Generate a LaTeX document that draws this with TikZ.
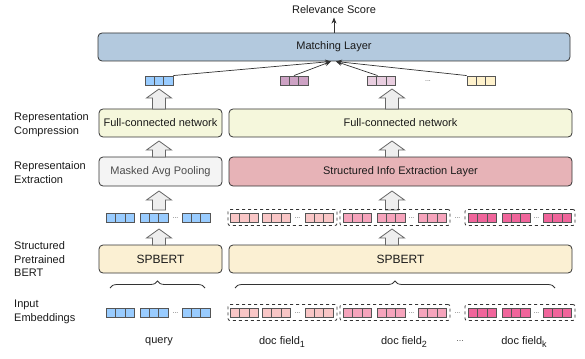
\documentclass[tikz,border=0pt]{standalone}
\usepackage{fontspec}
\setmainfont{Liberation Sans}
\usetikzlibrary{calc,arrows.meta,decorations.pathreplacing}
\definecolor{linec}{HTML}{333333}
\definecolor{cellc}{HTML}{555555}
\definecolor{matchc}{HTML}{B3C9DE}
\definecolor{fcc}{HTML}{F5F7DC}
\definecolor{maskc}{HTML}{F4F4F4}
\definecolor{siec}{HTML}{E7B3B7}
\definecolor{bertc}{HTML}{FBF0D3}
\definecolor{bluec}{HTML}{99CCFF}
\definecolor{pinka}{HTML}{F9C6C6}
\definecolor{pinkb}{HTML}{F6A4BC}
\definecolor{pinkc}{HTML}{F0659B}
\definecolor{purpc}{HTML}{CDA2C4}
\definecolor{mauvc}{HTML}{E9CEE0}
\definecolor{yellc}{HTML}{FFF2CC}
\definecolor{arrc}{HTML}{EEEEEE}
\definecolor{arrd}{HTML}{666666}
\definecolor{txtc}{HTML}{1A1A1A}
\newcommand\subsc[1]{\raisebox{-2.5pt}{\fontsize{9}{9}\selectfont #1}}
\begin{document}
\begin{tikzpicture}[x=1pt,y=1pt,
  every node/.style={font=\fontsize{11}{14}\selectfont, text=txtc},
  layer/.style={draw=linec, line width=0.8pt, rounded corners=4pt, minimum height=28pt, inner sep=0pt},
  vecnode/.style={draw=cellc, line width=0.9pt, minimum width=28pt, minimum height=9pt, inner sep=0pt, fill=#1,
    path picture={
      \draw[cellc,line width=0.9pt]
        ($(path picture bounding box.south west)!1/3!(path picture bounding box.south east)$) --
        ($(path picture bounding box.north west)!1/3!(path picture bounding box.north east)$)
        ($(path picture bounding box.south west)!2/3!(path picture bounding box.south east)$) --
        ($(path picture bounding box.north west)!2/3!(path picture bounding box.north east)$);}},
  dots/.style={font=\fontsize{7}{8}\selectfont, text=cellc, inner sep=0pt},
  dbox/.style={draw=linec, dashed, line width=0.8pt, rounded corners=2pt, minimum height=16pt, inner sep=0pt},
  sidelab/.style={anchor=west, align=left, inner sep=0pt},
  blockarr/.style={draw=arrd, fill=arrc, line width=0.8pt, line join=miter},
  conn/.style={draw=linec, line width=0.7pt, -{Stealth[length=6pt,width=5pt]}},
  bracec/.style={draw=linec, line width=0.8pt, decorate, decoration={brace, amplitude=7pt}}
]
\useasboundingbox (0,0) rectangle (585,-358);
\newcommand\fatarrow[3]{%
  \draw[blockarr] (#1-6.5,#2) -- (#1-6.5,#3-9) -- (#1-12.5,#3-9) -- (#1,#3) -- (#1+12.5,#3-9) -- (#1+6.5,#3-9) -- (#1+6.5,#2) -- cycle;}

% top
\node (rel) at (334,-10) {Relevance Score};
\node[layer, fill=matchc, minimum width=472pt] (match) at (334,-47) {Matching Layer};
\draw[conn] (match.north) -- (rel.south);

% compressed vectors
\node[vecnode=bluec] (cq) at (159,-80.5) {};
\node[vecnode=purpc] (c1) at (294,-80.5) {};
\node[vecnode=mauvc] (c2) at (381.5,-80.5) {};
\node[dots] (cd) at (428,-81) {...};
\node[vecnode=yellc] (ck) at (481,-80.5) {};
\coordinate (convL) at (331,-61.5);
\coordinate (convR) at (336,-61.5);
\draw[conn] (cq.north east) -- (convL);
\draw[conn] (c1.north) -- (convL);
\draw[conn] ([xshift=-4pt]c2.north) -- (convR);
\draw[conn] (ck.north west) -- (convR);

% layers
\node[layer, fill=fcc, minimum width=123pt] (fcL) at (160.5,-123) {Full-connected network};
\node[layer, fill=fcc, minimum width=343pt] (fcR) at (400.5,-123) {Full-connected network};
\node[layer, fill=maskc, minimum width=123pt, minimum height=29pt, text=black!70] (mask) at (160.5,-171.5) {Masked Avg Pooling};
\node[layer, fill=siec, minimum width=343pt, minimum height=29pt] (sie) at (400.5,-171.5) {Structured Info Extraction Layer};
\node[layer, fill=bertc, minimum width=123pt, font=\fontsize{12}{14}\selectfont] (bertL) at (160.5,-259) {SPBERT};
\node[layer, fill=bertc, minimum width=343pt, font=\fontsize{12}{14}\selectfont] (bertR) at (400.5,-259) {SPBERT};

% side labels
\node[sidelab] (l1) at (14,-124.5) {Representation\\Compression};
\node[sidelab] (l2) at (14,-172.5) {Representaion\\Extraction};
\node[sidelab, font=\fontsize{11}{13.5}\selectfont] (l3) at (14,-259.5) {Structured\\Pretrained\\BERT};
\node[sidelab] (l4) at (14,-312) {Input\\Embeddings};

% fat arrows
\fatarrow{159}{-109}{-89}
\fatarrow{392}{-109}{-89}
\fatarrow{159}{-157}{-141}
\fatarrow{392}{-157}{-141}
\fatarrow{159}{-210}{-191}
\fatarrow{392}{-210}{-191}
\fatarrow{159}{-245}{-229}
\fatarrow{392}{-245}{-229}

% vector rows
\foreach \y/\r in {-217.5/a,-312.5/b}{
  \node[vecnode=bluec] (q1\r) at (120.5,\y) {};
  \node[vecnode=bluec] (q2\r) at (154,\y) {};
  \node[dots] (qd\r) at (175.5,\y-0.5) {...};
  \node[vecnode=bluec] (q3\r) at (196,\y) {};
  \node[dbox, minimum width=109pt] (b1\r) at (282.5,\y) {};
  \node[vecnode=pinka] (f1a\r) at (244.5,\y) {};
  \node[vecnode=pinka] (f1b\r) at (276.5,\y) {};
  \node[dots] (f1d\r) at (297.5,\y-0.5) {...};
  \node[vecnode=pinka] (f1c\r) at (319,\y) {};
  \node[dbox, minimum width=110pt] (b2\r) at (395,\y) {};
  \node[vecnode=pinkb] (f2a\r) at (357.5,\y) {};
  \node[vecnode=pinkb] (f2b\r) at (391,\y) {};
  \node[dots] (f2d\r) at (411.5,\y-0.5) {...};
  \node[vecnode=pinkb] (f2c\r) at (432.5,\y) {};
  \node[dots] (bd\r) at (457.5,\y-0.5) {...};
  \node[dbox, minimum width=110pt] (b3\r) at (520,\y) {};
  \node[vecnode=pinkc] (fka\r) at (482.5,\y) {};
  \node[vecnode=pinkc] (fkb\r) at (516,\y) {};
  \node[dots] (fkd\r) at (536.5,\y-0.5) {...};
  \node[vecnode=pinkc] (fkc\r) at (557.5,\y) {};
}

% braces
\draw[bracec] (110,-288) -- (205,-288);
\draw[bracec] (235,-288) -- (555,-288);

% bottom labels
\node (ql) at (159,-342) {query};
\node (d1) at (282,-342) {doc field\subsc{1}};
\node (d2) at (404,-342) {doc field\subsc{2}};
\node[dots, font=\fontsize{9}{10}\selectfont] (dd) at (460,-341) {...};
\node (dk) at (524,-342) {doc field\subsc{k}};
\end{tikzpicture}
\end{document}
